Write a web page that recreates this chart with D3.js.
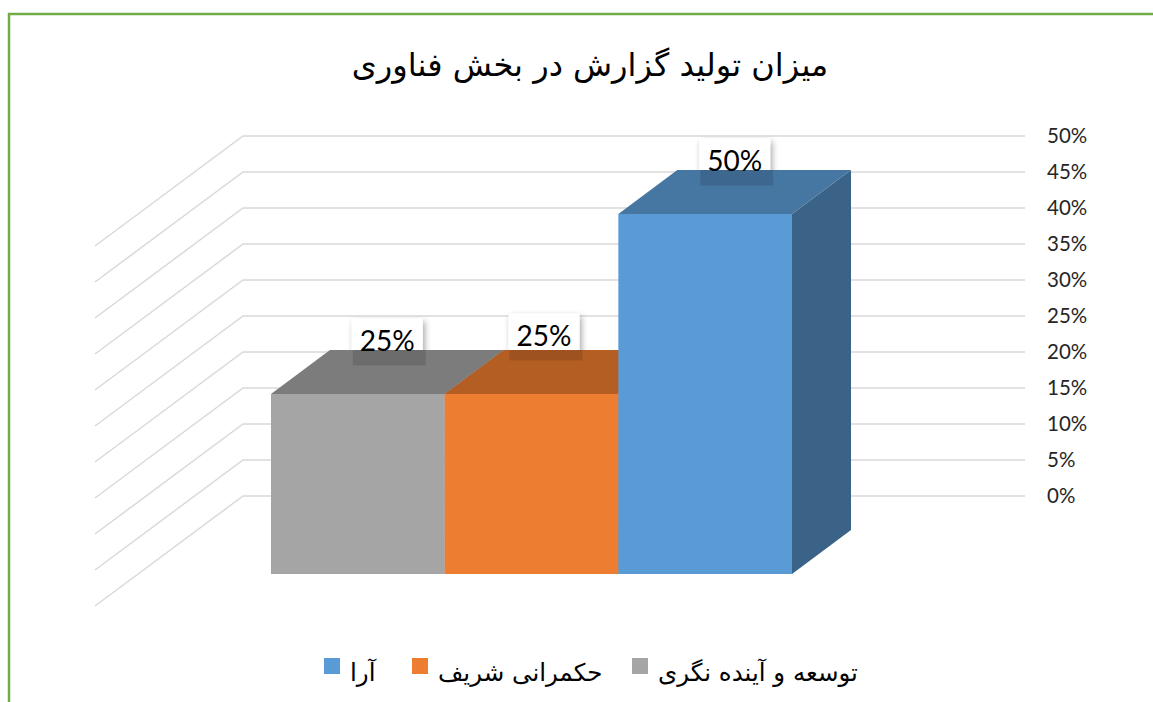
<!DOCTYPE html>
<html>
<head>
<meta charset="utf-8">
<script src="https://cdn.jsdelivr.net/npm/d3@7"></script>
<style>
  body { margin: 0; background: #fff; }
  svg { display: block; }
</style>
</head>
<body>
<svg id="chart" width="1153" height="702"></svg>
<script>
// data
const categories = ["توسعه و آینده نگری", "حکمرانی شریف", "آرا"];
const values = [0.25, 0.25, 0.5];
const labels = ["25%", "25%", "50%"];
const ticks = [0, 0.05, 0.1, 0.15, 0.2, 0.25, 0.3, 0.35, 0.4, 0.45, 0.5];
const frontColors = ["#A5A5A5", "#ED7D31", "#5B9BD5"];
const topColors = ["#7C7C7C", "#B45E24", "#4676A2"];
const sideColors = ["#6E6E6E", "#9E5220", "#3A6387"];
const title = "میزان تولید گزارش در بخش فناوری";

const svg = d3.select("#chart");
const faFont = "'DejaVu Sans', sans-serif";
const numFont = "Lato, 'Open Sans', sans-serif";

// depth of the 3D box
const dx = 59, dy = -44;
const wallX0 = 243, wallX1 = 1025;
const sideDx = -148, sideDy = 110;

const defs = svg.append("defs");
const sh = defs.append("filter").attr("id", "shadow")
  .attr("x", "-20%").attr("y", "-20%").attr("width", "150%").attr("height", "160%");
sh.append("feDropShadow").attr("dx", 2).attr("dy", 3).attr("stdDeviation", 3)
  .attr("flood-color", "#000").attr("flood-opacity", 0.35);

// frame
svg.append("rect")
  .attr("x", 9).attr("y", 14).attr("width", 1200).attr("height", 760)
  .attr("fill", "none").attr("stroke", "#70AD47").attr("stroke-width", 2.5);

// title
svg.append("text")
  .attr("x", 590).attr("y", 76)
  .attr("text-anchor", "middle")
  .attr("direction", "rtl")
  .style("font-family", faFont)
  .style("font-size", "32px")
  .attr("fill", "#000")
  .text(title);

// scales
const yWall = d3.scaleLinear().domain([0, 0.5]).range([496, 136]);
const yFront = d3.scaleLinear().domain([0, 0.5]).range([574, 214]);
const x = d3.scaleBand().domain(categories).range([271, 792]).padding(0);

// gridlines: back wall + side wall
const grid = svg.append("g");
ticks.forEach(t => {
  const y = yWall(t);
  grid.append("polyline")
    .attr("points", `${wallX0 + sideDx},${y + sideDy} ${wallX0},${y} ${wallX1},${y}`)
    .attr("fill", "none")
    .attr("stroke", "#D9D9D9")
    .attr("stroke-width", 1.5);
});

// axis labels
const axis = d3.axisRight(yWall).tickValues(ticks).tickSize(0).tickPadding(0)
  .tickFormat(d3.format(".0%"));
const axisG = svg.append("g").attr("transform", `translate(1047,0)`).call(axis);
axisG.select(".domain").remove();
axisG.selectAll("text")
  .style("font-family", numFont)
  .style("font-size", "20.5px")
  .attr("fill", "#262626");

// label boxes go behind the bars
const boxW = 71, boxH = 43;
function labelPos(i) {
  const x0 = x(categories[i]);
  const cx = x0 + (x.bandwidth() + dx) / 2 + (i === 1 ? -17 : 0);
  const topBack = yFront(values[i]) + dy;
  const cy = topBack - 10 + (i === 1 ? -5 : 0);
  return { cx, cy };
}
const boxes = svg.append("g");
values.forEach((v, i) => {
  const p = labelPos(i);
  boxes.append("rect")
    .attr("x", p.cx - boxW / 2).attr("y", p.cy - boxH / 2)
    .attr("width", boxW).attr("height", boxH)
    .attr("fill", "#fff")
    .attr("filter", "url(#shadow)");
});

// bars
const bars = svg.append("g");
values.forEach((v, i) => {
  const x0 = x(categories[i]);
  const x1 = x0 + x.bandwidth();
  const yt = yFront(v);
  const yb = yFront(0);
  // right side
  bars.append("polygon")
    .attr("points", `${x1},${yt} ${x1 + dx},${yt + dy} ${x1 + dx},${yb + dy} ${x1},${yb}`)
    .attr("fill", sideColors[i]);
  // top
  bars.append("polygon")
    .attr("points", `${x0},${yt} ${x0 + dx},${yt + dy} ${x1 + dx},${yt + dy} ${x1},${yt}`)
    .attr("fill", topColors[i]);
});
values.forEach((v, i) => {
  const x0 = x(categories[i]);
  bars.append("rect")
    .attr("x", x0).attr("y", yFront(v))
    .attr("width", x.bandwidth()).attr("height", yFront(0) - yFront(v))
    .attr("fill", frontColors[i]);
});

// label shadow over the top face + text
values.forEach((v, i) => {
  const p = labelPos(i);
  const topBack = yFront(v) + dy;
  const yS = Math.max(topBack, p.cy - boxH / 2);
  svg.append("rect")
    .attr("x", p.cx - boxW / 2 + 1).attr("y", yS)
    .attr("width", boxW + 2).attr("height", p.cy + boxH / 2 + 4 - yS)
    .attr("fill", "#000").attr("opacity", 0.12);
  svg.append("text")
    .attr("x", p.cx).attr("y", p.cy + 11)
    .attr("text-anchor", "middle")
    .style("font-family", numFont)
    .style("font-size", "28px")
    .attr("fill", "#000")
    .text(labels[i]);
});

// legend
const legendItems = [
  { i: 2, sx: 324 },
  { i: 1, sx: 412 },
  { i: 0, sx: 632 }
];
const legend = svg.append("g");
legendItems.forEach(d => {
  legend.append("rect")
    .attr("x", d.sx).attr("y", 658)
    .attr("width", 16).attr("height", 16)
    .attr("fill", frontColors[d.i]);
  legend.append("text")
    .attr("x", d.sx + 26).attr("y", 681)
    .attr("text-anchor", "end")
    .attr("direction", "rtl")
    .style("font-family", faFont)
    .style("font-size", "24.5px")
    .attr("fill", "#000")
    .text(categories[d.i]);
});
</script>
</body>
</html>
